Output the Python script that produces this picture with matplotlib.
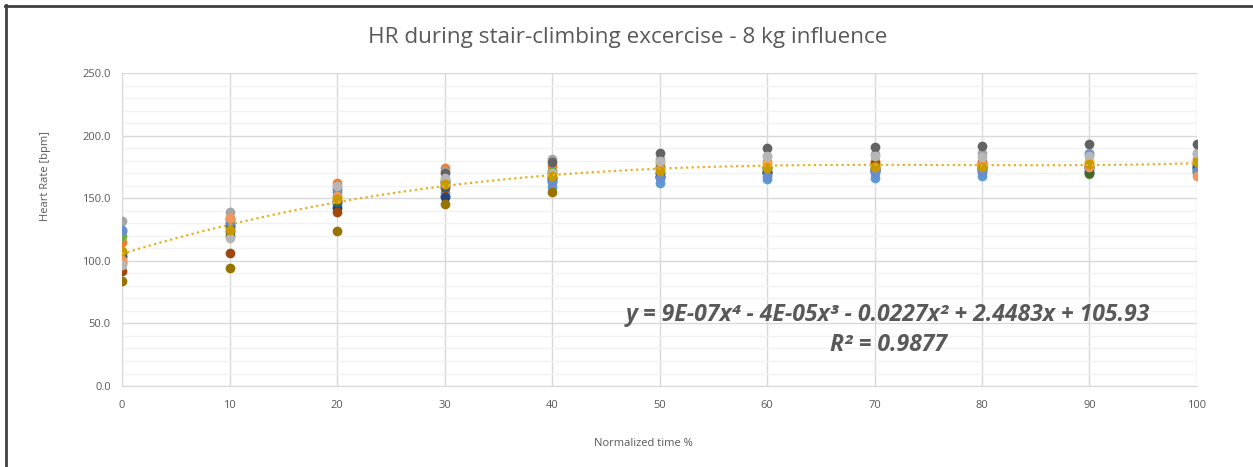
import matplotlib.pyplot as plt
from matplotlib.lines import Line2D
import numpy as np

x = [0, 10, 20, 30, 40, 50, 60, 70, 80, 90, 100]

# heart rate per subject (bpm)
hr = {
    "S1": [103, 126, 145, 152, 165, 167, 170, 172, 174, 174, 175],
    "S2": [115, 134, 162, 174, 176, 178, 179, 180, 179, 178, 181],
    "S3": [132, 139, 160, 172, 181, 181, 184, 185, 186, 186, 186],
    "S4": [100, 122, 150, 165, 172, 176, 177, 178, 177, 180, 179],
    "S5": [124, 130, 143, 154, 159, 162, 165, 166, 168, 170, 170],
    "S6": [120, 129, 152, 164, 172, 175, 172, 174, 174, 169, 173],
    "S7": [106, 124, 142, 151, 164, 167, 170, 172, 172, 172, 174],
    "S8": [92, 106, 139, 158, 166, 170, 175, 178, 178, 176, 178],
    "S9": [107, 133, 157, 170, 179, 186, 190, 191, 192, 193, 193],
    "S10": [84, 94, 124, 145, 155, 170, 172, 176, 176, 175, 177],
    "S11": [104, 128, 147, 160, 167, 168, 171, 173, 173, 174, 176],
    "S12": [98, 120, 148, 163, 170, 174, 174, 173, 175, 170, 172],
    "S13": [125, 131, 155, 164, 163, 166, 168, 170, 171, 185, 172],
    "S14": [101, 134, 152, 161, 170, 173, 176, 175, 177, 175, 168],
    "S15": [97, 118, 160, 166, 170, 180, 184, 184, 183, 184, 185],
    "S16": [108, 125, 149, 161, 168, 172, 174, 175, 175, 177, 179],
}
colors = ["#4472C4", "#ED7D31", "#A5A5A5", "#FFC000", "#5B9BD5", "#70AD47",
          "#264478", "#9E480E", "#636363", "#997300", "#255E91", "#43682B",
          "#698ED0", "#F1975A", "#B7B7B7", "#C99A00"]

txt = "#595959"
plt.rcParams['font.family'] = ['Open Sans', 'DejaVu Sans']

fig = plt.figure(figsize=(12.53, 4.67), dpi=100)
ax = fig.add_axes([0.0974, 0.1734, 0.8579, 0.6703])

for (name, vals), c in zip(hr.items(), colors):
    ax.plot(x, vals, 'o', color=c, markersize=7, markeredgewidth=0, zorder=3)

# 4th order polynomial trendline over all points
allx = np.concatenate([x for _ in hr])
ally = np.concatenate([v for v in hr.values()])
coef = np.polyfit(allx, ally, 4)
xs = np.linspace(0, 100, 200)
ax.plot(xs, np.polyval(coef, xs), color="#E8B020", linestyle=(0, (1, 1.5)),
        linewidth=1.6, zorder=4)

ax.set_xlim(0, 100)
ax.set_ylim(0, 250)
ax.set_xticks(x)
ax.set_yticks(np.arange(0, 251, 50))
ax.set_yticks(np.arange(0, 251, 10), minor=True)
ax.set_yticklabels([f"{v:.1f}" for v in np.arange(0, 251, 50)])
ax.tick_params(axis='both', which='both', length=0, labelsize=8, colors=txt, pad=8)
ax.tick_params(axis='x', pad=10)
ax.grid(which='major', color="#D9D9D9", linewidth=1)
ax.grid(which='minor', axis='y', color="#F2F2F2", linewidth=1)
ax.set_axisbelow(True)
for s in ['top', 'right']:
    ax.spines[s].set_visible(False)
for s in ['left', 'bottom']:
    ax.spines[s].set_color("#D9D9D9")

ax.set_ylabel("Heart Rate [bpm]", fontsize=8, color=txt)
ax.yaxis.set_label_coords(-0.066, 0.67)
fig.text(643 / 1253, 1 - 443 / 467, "Normalized time %", fontsize=8, color=txt,
         ha='center', va='center')
fig.text(628 / 1253, 1 - 37 / 467, "HR during stair-climbing excercise - 8 kg influence",
         fontsize=16.2, color=txt, ha='center', va='center')

fig.text(888 / 1253, 1 - 315 / 467, "y = 9E-07x⁴ - 4E-05x³ - 0.0227x² + 2.4483x + 105.93",
         fontsize=16.6, color=txt, ha='center', va='center',
         fontweight='bold', fontstyle='italic')
fig.text(888 / 1253, 1 - 345 / 467, "R² = 0.9877", fontsize=16.6, color=txt,
         ha='center', va='center', fontweight='bold', fontstyle='italic')

# outer frame (top and left edges of the chart box)
fig.add_artist(Line2D([5 / 1253, 1], [1 - 6 / 467, 1 - 6 / 467], color="#404040", linewidth=2))
fig.add_artist(Line2D([6 / 1253, 6 / 1253], [0, 1 - 5 / 467], color="#404040", linewidth=2))

fig.savefig("out.png", dpi=100)
